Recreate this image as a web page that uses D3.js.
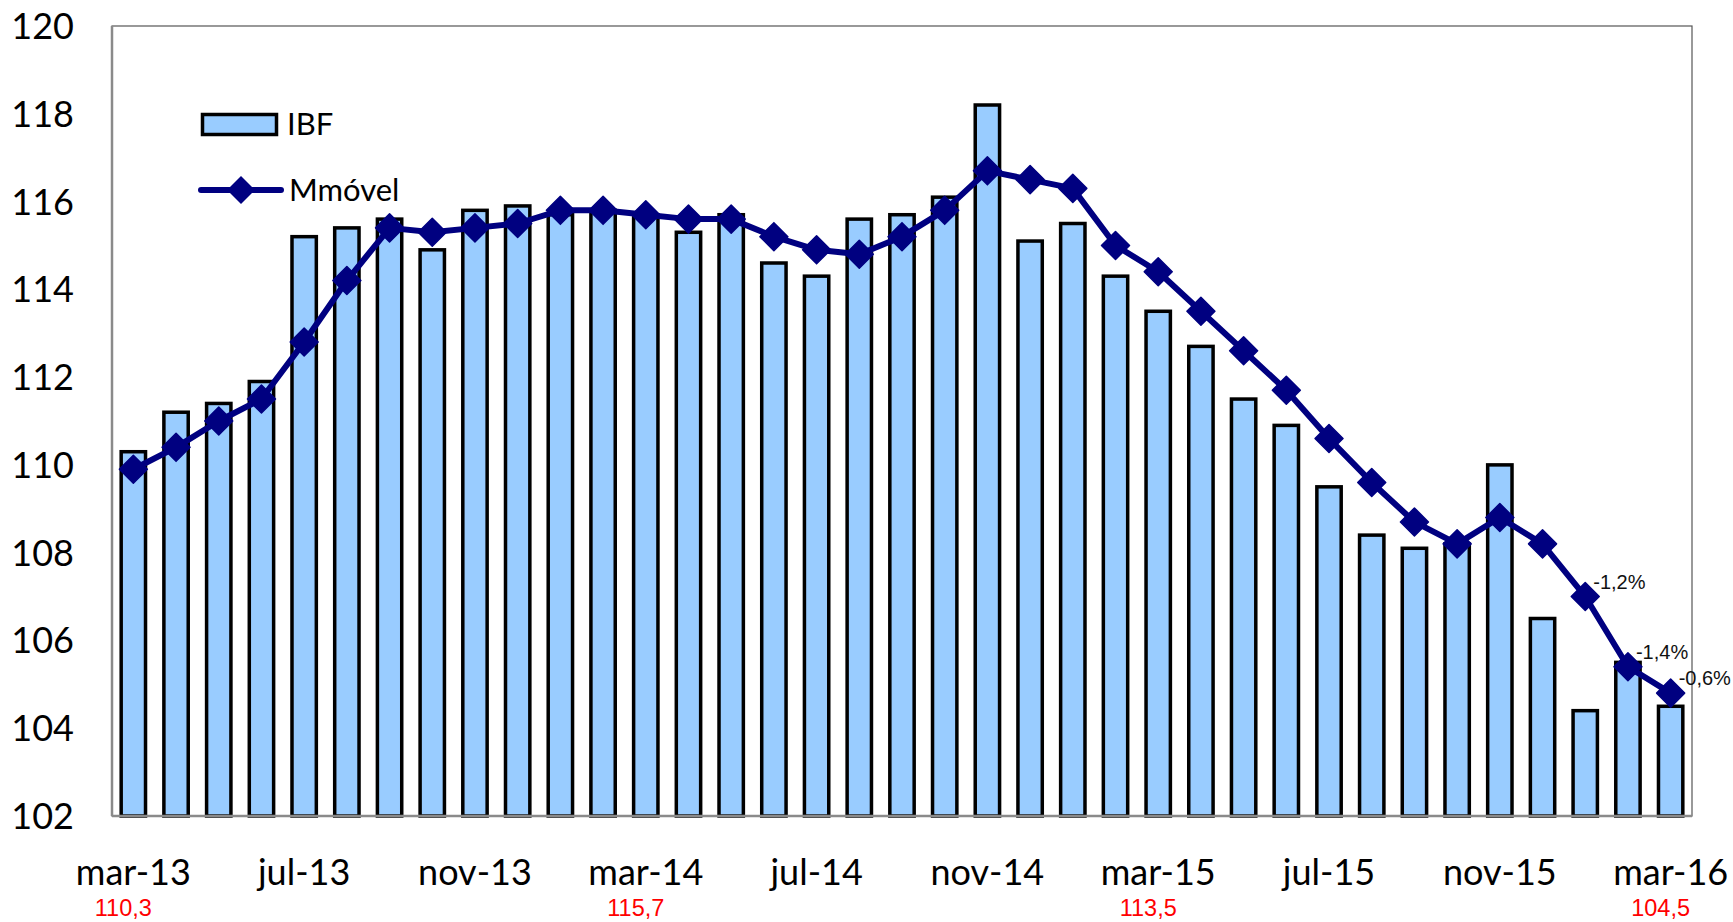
<!DOCTYPE html>
<html>
<head>
<meta charset="utf-8">
<script src="https://cdn.jsdelivr.net/npm/d3@7"></script>
<style>
    body { margin: 0; background: #fff; }
    svg { display: block; }
    .tick-label { font-family: Lato, sans-serif; font-size: 36px; fill: #000; }
    .legend-label { font-family: Lato, sans-serif; font-size: 31px; fill: #000; }
    .red-label { font-family: 'Liberation Sans', Arial, sans-serif; font-size: 23.5px; fill: #ff0000; }
    .pct-label { font-family: 'Liberation Sans', Arial, sans-serif; font-size: 20px; fill: #111; }
</style>
</head>
<body>
<div id="ibf-chart"></div>
<script>
var months = ['mar-13', 'abr-13', 'mai-13', 'jun-13', 'jul-13', 'ago-13', 'set-13', 'out-13', 'nov-13', 'dez-13',
    'jan-14', 'fev-14', 'mar-14', 'abr-14', 'mai-14', 'jun-14', 'jul-14', 'ago-14', 'set-14', 'out-14', 'nov-14', 'dez-14',
    'jan-15', 'fev-15', 'mar-15', 'abr-15', 'mai-15', 'jun-15', 'jul-15', 'ago-15', 'set-15', 'out-15', 'nov-15', 'dez-15',
    'jan-16', 'fev-16', 'mar-16'];

var ibf = [110.3, 111.2, 111.4, 111.9, 115.2, 115.4, 115.6, 114.9, 115.8, 115.9,
    115.7, 115.8, 115.7, 115.3, 115.7, 114.6, 114.3, 115.6, 115.7, 116.1, 118.2, 115.1,
    115.5, 114.3, 113.5, 112.7, 111.5, 110.9, 109.5, 108.4, 108.1, 108.2, 110.0, 106.5,
    104.4, 105.5, 104.5];

var mmovel = [109.9, 110.4, 111.0, 111.5, 112.8, 114.2, 115.4, 115.3, 115.4, 115.5,
    115.8, 115.8, 115.7, 115.6, 115.6, 115.2, 114.9, 114.8, 115.2, 115.8, 116.7, 116.5,
    116.3, 115.0, 114.4, 113.5, 112.6, 111.7, 110.6, 109.6, 108.7, 108.2, 108.8, 108.2,
    107.0, 105.4, 104.8];

var xTickLabels = ['mar-13', 'jul-13', 'nov-13', 'mar-14', 'jul-14', 'nov-14', 'mar-15', 'jul-15', 'nov-15', 'mar-16'];
var yTicks = [102, 104, 106, 108, 110, 112, 114, 116, 118, 120];

// red values printed under each march
var marchMonths = ['mar-13', 'mar-14', 'mar-15', 'mar-16'];
var marchValues = ['110,3', '115,7', '113,5', '104,5'];

// variation labels on the last three points of the moving average
var pctMonths = ['jan-16', 'fev-16', 'mar-16'];
var pctLabels = ['-1,2%', '-1,4%', '-0,6%'];

var width = 1733, height = 922;
var plot = { left: 112, right: 1692, top: 26, bottom: 816 };

var svg = d3.select('#ibf-chart').append('svg')
    .attr('width', width)
    .attr('height', height);

var x = d3.scaleBand()
    .domain(months)
    .range([plot.left, plot.right])
    .paddingInner(0.43)
    .paddingOuter(0.215);

var y = d3.scaleLinear()
    .domain([102, 120])
    .range([plot.bottom, plot.top]);

var cx = function(m) { return x(m) + x.bandwidth() / 2; };

// frame
svg.append('rect')
    .attr('x', plot.left)
    .attr('y', plot.top)
    .attr('width', plot.right - plot.left)
    .attr('height', plot.bottom - plot.top)
    .attr('fill', 'none')
    .attr('stroke', '#555')
    .attr('stroke-width', 1.2);

// bars
svg.append('g').selectAll('rect')
    .data(months)
    .enter()
    .append('rect')
    .attr('x', function(d) { return x(d); })
    .attr('y', function(d, i) { return y(ibf[i]); })
    .attr('width', x.bandwidth())
    .attr('height', function(d, i) { return y(102) - y(ibf[i]); })
    .attr('fill', '#99ccff')
    .attr('stroke', '#000')
    .attr('stroke-width', 3.5);

// axes lines (gray, no ticks)
svg.append('line')
    .attr('x1', plot.left).attr('x2', plot.left)
    .attr('y1', plot.top).attr('y2', plot.bottom)
    .attr('stroke', '#8a8a8a').attr('stroke-width', 2.5);
svg.append('line')
    .attr('x1', plot.left).attr('x2', plot.right)
    .attr('y1', plot.bottom).attr('y2', plot.bottom)
    .attr('stroke', '#8a8a8a').attr('stroke-width', 2.5);

// moving average line
var line = d3.line()
    .x(function(d, i) { return cx(months[i]); })
    .y(function(d) { return y(d); });

svg.append('path')
    .datum(mmovel)
    .attr('d', line)
    .attr('fill', 'none')
    .attr('stroke', '#000080')
    .attr('stroke-width', 6)
    .attr('stroke-linejoin', 'round');

var diamond = d3.symbol().type(d3.symbolDiamond2).size(500);

svg.append('g').selectAll('path')
    .data(mmovel)
    .enter()
    .append('path')
    .attr('d', diamond)
    .attr('transform', function(d, i) { return 'translate(' + cx(months[i]) + ',' + y(d) + ')'; })
    .attr('fill', '#000080')
    .attr('stroke', '#000080')
    .attr('stroke-width', 1.5)
    .attr('stroke-linejoin', 'round');

// y axis labels
svg.append('g').selectAll('text')
    .data(yTicks)
    .enter()
    .append('text')
    .attr('class', 'tick-label')
    .attr('x', 74)
    .attr('y', function(d) { return y(d); })
    .attr('dy', '0.36em')
    .attr('text-anchor', 'end')
    .text(function(d) { return d; });

// x axis labels
svg.append('g').selectAll('text')
    .data(xTickLabels)
    .enter()
    .append('text')
    .attr('class', 'tick-label')
    .attr('x', function(d) { return cx(d); })
    .attr('y', 885)
    .attr('text-anchor', 'middle')
    .text(function(d) { return d; });

svg.append('g').selectAll('text')
    .data(marchMonths)
    .enter()
    .append('text')
    .attr('class', 'red-label')
    .attr('x', function(d) { return cx(d) - 10; })
    .attr('y', 916)
    .attr('text-anchor', 'middle')
    .text(function(d, i) { return marchValues[i]; });

svg.append('g').selectAll('text')
    .data(pctMonths)
    .enter()
    .append('text')
    .attr('class', 'pct-label')
    .attr('x', function(d) { return cx(d) + 8; })
    .attr('y', function(d) { return y(mmovel[months.indexOf(d)]) - 8; })
    .text(function(d, i) { return pctLabels[i]; });

// legend
var legend = svg.append('g').attr('transform', 'translate(201,113)');

legend.append('rect')
    .attr('x', 1.5).attr('y', 1.5)
    .attr('width', 74).attr('height', 20)
    .attr('fill', '#99ccff')
    .attr('stroke', '#000')
    .attr('stroke-width', 3.5);
legend.append('text')
    .attr('class', 'legend-label')
    .attr('x', 86).attr('y', 22)
    .text('IBF');

legend.append('line')
    .attr('x1', 0).attr('x2', 80)
    .attr('y1', 77).attr('y2', 77)
    .attr('stroke', '#000080')
    .attr('stroke-width', 6)
    .attr('stroke-linecap', 'round');
legend.append('path')
    .attr('d', diamond)
    .attr('transform', 'translate(40,77)')
    .attr('fill', '#000080');
legend.append('text')
    .attr('class', 'legend-label')
    .attr('x', 88).attr('y', 88)
    .text('Mmóvel');
</script>
</body>
</html>
